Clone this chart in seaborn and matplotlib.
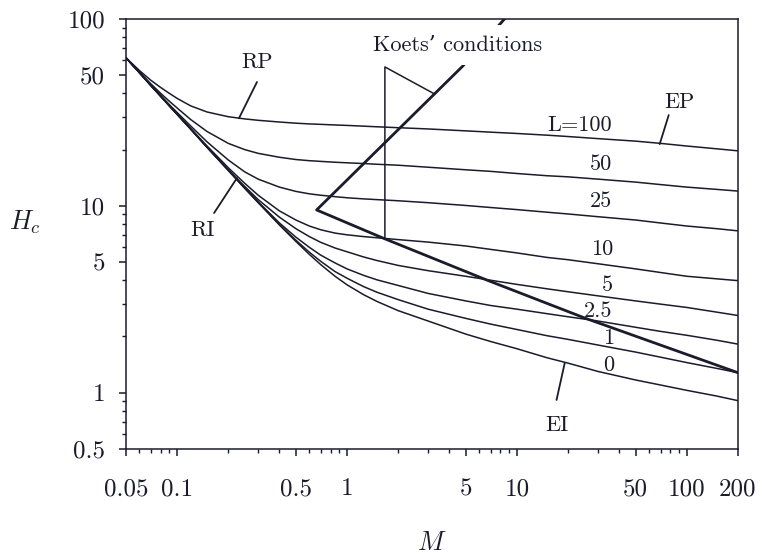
import numpy as np
import pandas as pd
import matplotlib
matplotlib.use("Agg")
import matplotlib.pyplot as plt
import seaborn as sns

# ---------------- data ----------------
M = [0.05, 0.06, 0.07, 0.08, 0.09, 0.1, 0.12, 0.15, 0.2, 0.25, 0.3, 0.4, 0.5, 0.6,
     0.7, 0.85, 1, 1.25, 1.5, 2, 3, 5, 7, 10, 15, 20, 30, 50, 70, 100, 150, 200]

H_L100 = [62, 53, 47, 43, 40, 37.6, 34.3, 31.8, 30.0, 29.2, 28.7, 28.1, 27.7, 27.45,
          27.3, 27.1, 26.95, 26.7, 26.5, 26.2, 25.8, 25.2, 24.8, 24.4, 23.9, 23.5,
          22.9, 22.2, 21.6, 20.9, 20.2, 19.7]
H_L50 = [62, 52, 45, 40, 36.3, 33.4, 29, 25, 21.6, 20, 19.1, 18.2, 17.7, 17.45,
         17.3, 17.12, 17.0, 16.85, 16.7, 16.5, 16.1, 15.6, 15.3, 14.9, 14.5, 14.3,
         13.9, 13.4, 13.0, 12.6, 12.25, 12.0]
H_L25 = [62, 51.7, 44.4, 39, 34.8, 31.6, 26.8, 22, 17.6, 15.2, 13.9, 12.6, 11.95, 11.6,
         11.4, 11.2, 11.05, 10.9, 10.8, 10.65, 10.4, 10.05, 9.8, 9.55, 9.25, 9.05,
         8.75, 8.4, 8.1, 7.8, 7.55, 7.35]
H_L10 = [62, 51.6, 44.2, 38.7, 34.4, 31.1, 26, 20.9, 16.0, 13.2, 11.4, 9.4, 8.4, 7.8,
         7.45, 7.15, 7.0, 6.85, 6.75, 6.6, 6.4, 6.1, 5.85, 5.6, 5.3, 5.15,
         4.9, 4.6, 4.4, 4.2, 4.07, 3.98]
H_L5 = [62, 51.6, 44.1, 38.6, 34.3, 30.9, 25.8, 20.6, 15.6, 12.7, 10.8, 8.7, 7.55, 6.85,
        6.38, 5.95, 5.68, 5.33, 5.1, 4.8, 4.5, 4.2, 4.0, 3.8, 3.6, 3.47,
        3.3, 3.1, 2.98, 2.86, 2.7, 2.59]
H_L2_5 = [62, 51.6, 44.1, 38.6, 34.3, 30.9, 25.8, 20.6, 15.5, 12.5, 10.5, 8.1, 6.8, 6.0,
          5.45, 4.95, 4.6, 4.25, 4.02, 3.75, 3.4, 3.1, 2.93, 2.8, 2.65, 2.55,
          2.42, 2.24, 2.13, 2.03, 1.91, 1.82]
H_L1 = [62, 51.6, 44.1, 38.6, 34.3, 30.9, 25.8, 20.6, 15.5, 12.45, 10.45, 7.95, 6.55, 5.65,
        5.05, 4.45, 4.1, 3.7, 3.45, 3.15, 2.8, 2.5, 2.33, 2.18, 2.02, 1.93,
        1.8, 1.65, 1.55, 1.45, 1.35, 1.28]
H_L0 = [62, 51.6, 44.1, 38.6, 34.3, 30.9, 25.8, 20.6, 15.5, 12.4, 10.4, 7.9, 6.45, 5.5,
        4.85, 4.2, 3.78, 3.35, 3.08, 2.75, 2.42, 2.06, 1.88, 1.72, 1.54, 1.44,
        1.3, 1.17, 1.1, 1.03, 0.96, 0.907]

L_labels = ["L=100", "50", "25", "10", "5", "2.5", "1", "0"]
curves = [H_L100, H_L50, H_L25, H_L10, H_L5, H_L2_5, H_L1, H_L0]

# Koets' conditions (thick line)
koets_M = [9.1, 4.8, 0.662, 1.625, 6.64, 25.1, 200]
koets_H = [108, 56.0, 9.51, 6.73, 4.01, 2.51, 1.28]

# pointer of the Koets label
ptr_M = [1.67, 1.67, 3.29]
ptr_H = [6.73, 55.4, 39.6]

x_ticks = [0.05, 0.1, 0.5, 1, 5, 10, 50, 100, 200]
x_ticklabels = ["0.05", "0.1", "0.5", "1", "5", "10", "50", "100", "200"]
y_ticks = [0.5, 1, 5, 10, 50, 100]
y_ticklabels = ["0.5", "1", "5", "10", "50", "100"]

# ---------------- style ----------------
sns.set_theme(style="ticks")
INK = "#1b1b2b"
plt.rcParams.update({
    "font.family": ["cmr10", "DejaVu Serif"],
    "mathtext.fontset": "cm",
    "axes.formatter.use_mathtext": True,
    "axes.edgecolor": INK,
    "xtick.color": INK,
    "ytick.color": INK,
    "text.color": INK,
    "axes.linewidth": 1.1,
})

fig = plt.figure(figsize=(7.62, 5.56), dpi=100)
ax = fig.add_axes([126 / 762, 1 - 449 / 556, (738 - 126) / 762, (449 - 19) / 556])
ax.set_xscale("log")
ax.set_yscale("log")

df = pd.DataFrame({"M": M})
for lab, h in zip(L_labels, curves):
    df[lab] = h
long = df.melt(id_vars="M", var_name="L", value_name="H")
sns.lineplot(data=long, x="M", y="H", hue="L", units="L", estimator=None,
             palette=[INK] * len(L_labels), legend=False, lw=1.1, ax=ax,
             sort=False)

sns.lineplot(x=koets_M, y=koets_H, sort=False, estimator=None, color=INK,
             lw=2.0, ax=ax)
sns.lineplot(x=ptr_M, y=ptr_H, sort=False, estimator=None, color=INK,
             lw=1.1, ax=ax)

# pointers for regime labels
def pointer(x0, y0, x1, y1):
    ax.plot([x0, x1], [y0, y1], color=INK, lw=1.3)

pointer(0.295, 46.0, 0.231, 29.4)    # RP
pointer(0.165, 9.16, 0.225, 14.1)    # RI
pointer(78.2, 30.6, 69.2, 21.4)      # EP
pointer(17.1, 0.915, 19.1, 1.44)     # EI

FS = 16
ax.text(0.295, 58.9, "RP", fontsize=FS, ha="center", va="center")
ax.text(0.142, 7.43, "RI", fontsize=FS, ha="center", va="center")
ax.text(90.8, 35.9, "EP", fontsize=FS, ha="center", va="center")
ax.text(17.1, 0.668, "EI", fontsize=FS, ha="center", va="center")

lab_pos = [(23.4, 27.1), (31.4, 16.6), (31.4, 10.6), (31.8, 5.87),
           (34.2, 3.78), (30.1, 2.72), (34.4, 1.95), (34.7, 1.40)]
for lab, (lx, ly) in zip(L_labels, lab_pos):
    ax.text(lx, ly, lab, fontsize=FS, ha="center", va="center")

ax.text(4.46, 72.6, "Koets\u2019 conditions", fontsize=FS, ha="center", va="center",
        family=["cmr10", "DejaVu Serif"],
        bbox=dict(boxstyle="square,pad=0.45", fc="white", ec="none"), zorder=5)

ax.set_xlim(0.05, 200)
ax.set_ylim(0.5, 100)
ax.set_xticks(x_ticks)
ax.set_xticklabels(x_ticklabels)
ax.set_yticks(y_ticks)
ax.set_yticklabels(y_ticklabels)
ax.xaxis.set_minor_locator(matplotlib.ticker.LogLocator(base=10, subs=np.arange(2, 10)))
ax.yaxis.set_minor_locator(matplotlib.ticker.LogLocator(base=10, subs=np.arange(2, 10)))
ax.xaxis.set_minor_formatter(matplotlib.ticker.NullFormatter())
ax.yaxis.set_minor_formatter(matplotlib.ticker.NullFormatter())
ax.tick_params(axis="both", which="major", direction="out", length=5, width=1.1,
               labelsize=18)
ax.tick_params(axis="both", which="minor", direction="out", length=3, width=1.0)
ax.tick_params(axis="x", which="major", pad=16)
ax.tick_params(axis="y", which="major", pad=10)
ax.set_xlabel("")
ax.set_ylabel("")
for s in ax.spines.values():
    s.set_visible(True)

fig.text(25 / 762, 1 - 222 / 556, r"$H_c$", fontsize=19, ha="center", va="center")
fig.text(432 / 762, 1 - 543 / 556, r"$M$", fontsize=19, ha="center", va="center")

fig.savefig("out.png", dpi=100)
